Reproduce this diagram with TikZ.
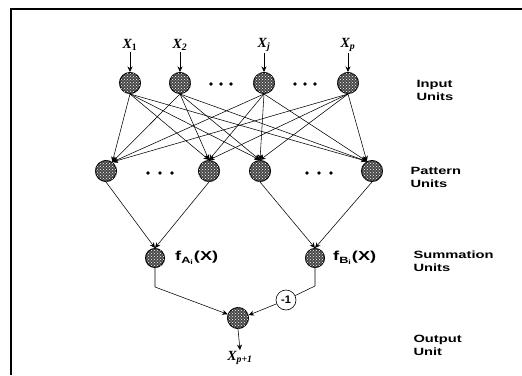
\documentclass[tikz,border=0pt]{standalone}
\usepackage{fontspec}
\setmainfont{Liberation Serif}
\setsansfont{Liberation Sans}
\newfontfamily\widesans[FakeStretch=1.4]{Liberation Sans}
\usetikzlibrary{arrows.meta,patterns}
\begin{document}
\begin{tikzpicture}[x=1pt,y=-1pt,
  unit/.style={circle,draw=black,line width=1pt,fill=black!72,
    postaction={pattern=crosshatch dots,pattern color=white},
    minimum size=21pt,inner sep=0pt},
  sunit/.style={unit,minimum size=19pt},
  xlab/.style={font=\fontsize{14}{14}\selectfont\bfseries\itshape,inner sep=1pt},
  side/.style={font=\fontsize{10.5}{13}\selectfont\widesans\bfseries,align=left,anchor=west},
  flab/.style={font=\fontsize{13}{13}\selectfont\widesans\bfseries,anchor=west,inner sep=0pt},
  arr/.style={-{Stealth[length=5.5pt,width=5pt]},line width=0.55pt},
  conn/.style={line width=0.55pt}]
\useasboundingbox (0,0) rectangle (522,375);
% frame
\draw[line width=1.1pt] (11,375) -- (11,9) -- (522,9);
% input labels
\node[xlab] (x1) at (130,45) {X\textsubscript{\upshape 1}};
\node[xlab] (x2) at (180,45) {X\textsubscript{2}};
\node[xlab] (xj) at (264,45) {X\textsubscript{j}};
\node[xlab] (xp) at (348,45) {X\textsubscript{p}};
% input units
\node[unit] (i1) at (130,83) {};
\node[unit] (i2) at (180,83) {};
\node[unit] (ij) at (264,83) {};
\node[unit] (ip) at (348,83) {};
\foreach \a/\b in {x1/i1,x2/i2,xj/ij,xp/ip} \draw[arr] (\a) -- (\b);
% pattern units
\node[unit] (p1) at (106,171) {};
\node[unit] (p2) at (209,171) {};
\node[unit] (p3) at (260,171) {};
\node[unit] (p4) at (372,171) {};
% dots
\foreach \x in {211,221,231,295,305,315} \fill (\x,84) circle (1.8pt);
\foreach \x in {148,160,172,307,319,331} \fill (\x,173) circle (1.8pt);
% full connections
\foreach \i in {i1,i2,ij,ip}{
  \draw[arr] (\i.south) -- (p1.55);
  \draw[arr] (\i.south) -- (p2.north);
  \draw[arr] (\i.south) -- (p3.north);
  \draw[arr] (\i.south) -- (p4.118);
}
% summation units
\node[sunit] (sa) at (155,258) {};
\node[sunit] (sb) at (315,258) {};
\node[flab] at (175,258) {f\textsubscript{A\textsubscript{i}}(X)};
\node[flab] at (333,258) {f\textsubscript{B\textsubscript{i}}(X)};
\draw[arr] (p1.south) -- (sa.north);
\draw[arr] (p2.south) -- (sa.north);
\draw[arr] (p3.south) -- (sb.north);
\draw[arr] (p4.south) -- (sb.north);
% output
\node[unit] (o) at (238,318) {};
\node[circle,draw,line width=0.6pt,minimum size=20pt,inner sep=0pt,
  font=\fontsize{11}{11}\selectfont\sffamily\bfseries] (m1) at (286,300) {-1};
\coordinate (ca) at (155,287);
\coordinate (cb) at (315,286);
\draw[arr] (sa.south) -- (ca) -- (o.160);
\draw[conn] (sb.south) -- (cb) -- (m1);
\draw[arr] (m1) -- (o.15);
\node[xlab] (xo) at (240,358) {X\textsubscript{p+1}};
\draw[arr] (o.south) -- (xo.north);
% side labels
\node[side] at (413,90) {Input\\Units};
\node[side] at (407,177) {Pattern\\Units};
\node[side] at (410,261) {Summation\\Units};
\node[side] at (410,345) {Output\\Unit};
\end{tikzpicture}
\end{document}
